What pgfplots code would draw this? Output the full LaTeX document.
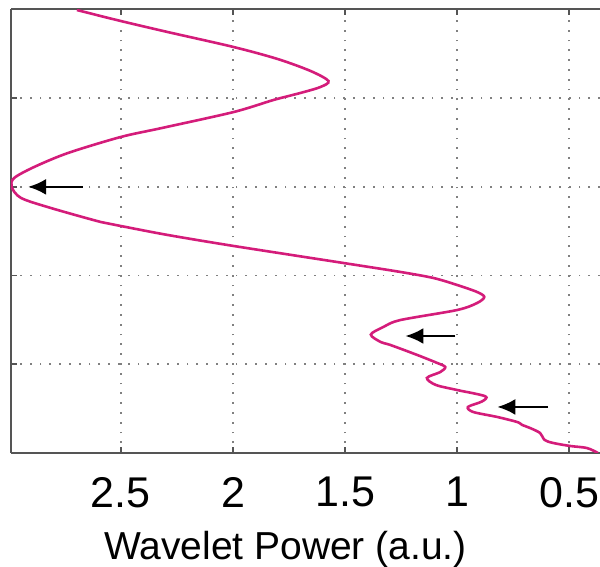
\documentclass[border=0pt]{standalone}
\usepackage{pgfplots}
\pgfplotsset{compat=1.18}
\usetikzlibrary{arrows.meta}
\usepackage{fontspec}
\setmainfont{Liberation Sans}
\definecolor{curve}{RGB}{212,28,122}
\definecolor{spine}{RGB}{85,85,85}
\begin{document}
\begin{tikzpicture}
\path[use as bounding box] (-5.5pt,-57pt) rectangle (294.5pt,226.5pt);
\begin{axis}[
  at={(0,0)}, anchor=south west,
  scale only axis,
  width=294.5pt, height=221.75pt,
  x dir=reverse,
  xmin=0.363, xmax=2.99,
  ymin=0, ymax=5,
  axis x line=box, axis y line=left,
  axis line style={-, spine, line width=1pt},
  xtick={0.5,1,1.5,2,2.5},
  ytick={1,2,3,4},
  yticklabels={},
  tick align=inside,
  major tick length=3pt,
  every tick/.style={spine, line width=0.8pt},
  grid=major,
  major grid style={gray, line width=0.9pt, dash pattern=on 0.9pt off 4pt},
  /pgf/number format/assume math mode=true,
  tick label style={font=\fontsize{21.5}{25}\selectfont},
  xticklabel style={yshift=-8.5pt},
  xlabel={Wavelet Power (a.u.)},
  xlabel style={font=\fontsize{19.5}{23}\selectfont, yshift=-5pt, xshift=-10pt},
  clip=true,
]
\addplot[curve, line width=1.3pt, smooth, tension=0.5] coordinates {
(2.696,4.994) (2.500,4.870) (2.291,4.746) (1.997,4.577) (1.801,4.442)
(1.654,4.307) (1.574,4.194) (1.610,4.126) (1.699,4.059) (1.819,3.980)
(1.997,3.844) (2.317,3.664) (2.500,3.563) (2.736,3.382) (2.887,3.224)
(2.976,3.100) (2.987,2.999) (2.945,2.875) (2.812,2.762) (2.589,2.604)
(2.500,2.559) (2.291,2.458) (1.997,2.334) (1.507,2.142) (1.253,2.041)
(1.106,1.973) (1.000,1.894) (0.911,1.815) (0.879,1.759) (0.911,1.691)
(1.000,1.612) (1.253,1.499) (1.329,1.421) (1.385,1.335) (1.340,1.250)
(1.298,1.218) (1.178,1.105) (1.089,1.015) (1.053,0.970) (1.075,0.913)
(1.135,0.846) (1.095,0.767) (1.000,0.710) (0.875,0.640) (0.890,0.580)
(0.952,0.519) (0.928,0.462) (0.821,0.406) (0.732,0.349) (0.710,0.316)
(0.675,0.282) (0.630,0.225) (0.610,0.147) (0.572,0.113) (0.496,0.079)
(0.421,0.056) (0.372,0.000)
};
\draw[-{Latex[length=9pt,width=8pt]}, line width=1.3pt, black] (axis cs:2.669,3.0) -- (axis cs:2.914,3.0);
\draw[-{Latex[length=9pt,width=8pt]}, line width=1.3pt, black] (axis cs:1.008,1.319) -- (axis cs:1.231,1.319);
\draw[-{Latex[length=9pt,width=8pt]}, line width=1.3pt, black] (axis cs:0.594,0.519) -- (axis cs:0.821,0.519);
\end{axis}
\end{tikzpicture}
\end{document}
